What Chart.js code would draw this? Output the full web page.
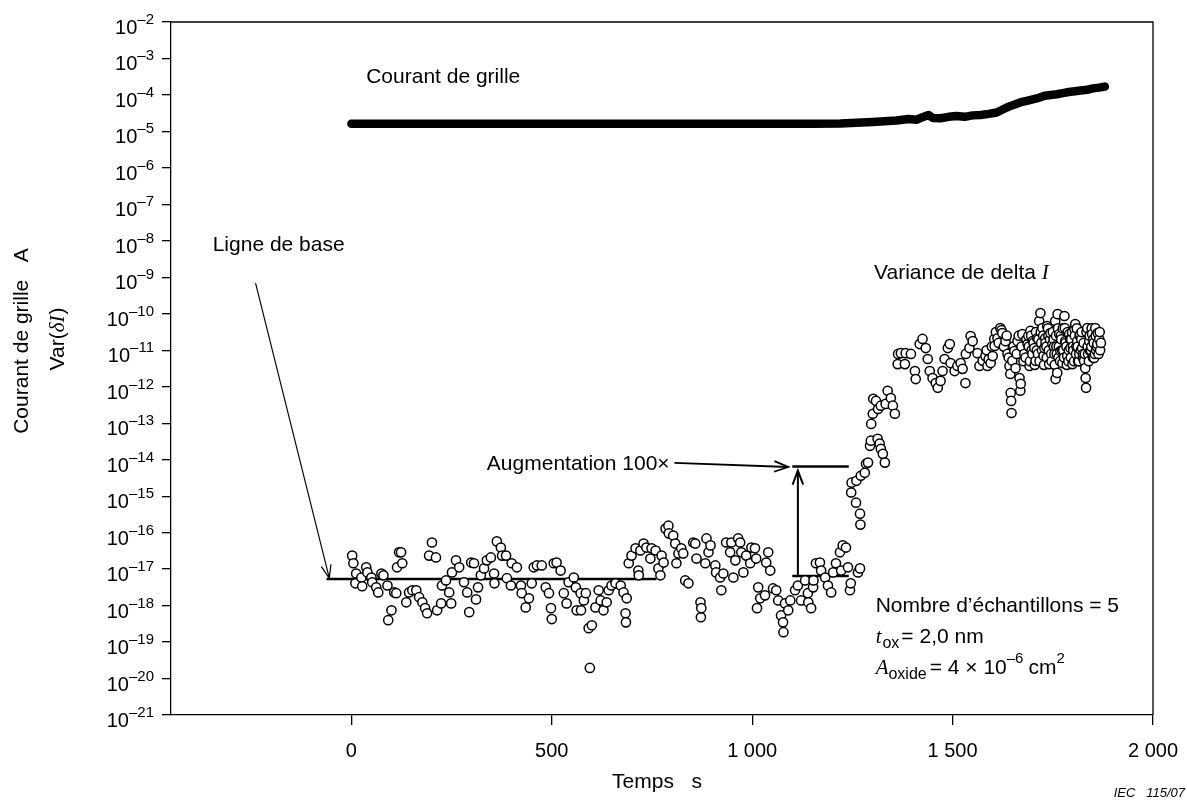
<!DOCTYPE html>
<html><head><meta charset="utf-8">
<script src="https://cdn.jsdelivr.net/npm/chart.js@4.4.1/dist/chart.umd.min.js"></script>
<style>html,body{margin:0;padding:0;background:#fff;overflow:hidden}canvas{display:block}</style>
</head><body>
<canvas id="c" width="1187" height="800" style="width:1187px;height:800px"></canvas>
<script>
// ---------------- DATA ----------------
const xTickValues = [0, 500, 1000, 1500, 2000];
const xTickLabels = ['0', '500', '1 000', '1 500', '2 000'];
const yTickExponents = [-2,-3,-4,-5,-6,-7,-8,-9,-10,-11,-12,-13,-14,-15,-16,-17,-18,-19,-20,-21];

// Gate current (A): time s, log10(I)
const gridTimes = [0,200,400,600,800,1000,1150,1220,1260,1300,1330,1360,1390,1410,1425,1440,1450,1470,1490,1510,1530,1550,1570,1590,1610,1625,1640,1655,1670,1685,1700,1715,1730,1745,1760,1775,1790,1805,1820,1835,1850,1865,1880];
const gridLog10 = [-4.79,-4.79,-4.79,-4.79,-4.79,-4.79,-4.79,-4.78,-4.76,-4.74,-4.72,-4.70,-4.66,-4.68,-4.61,-4.55,-4.63,-4.64,-4.60,-4.58,-4.60,-4.56,-4.55,-4.52,-4.48,-4.40,-4.32,-4.26,-4.20,-4.16,-4.12,-4.08,-4.02,-4.00,-3.98,-3.95,-3.92,-3.90,-3.88,-3.86,-3.82,-3.80,-3.77];

// Var(deltaI): time s, log10(Var)
const varianceTimes = [2,5,10,12,25,27,37,40,50,52,62,67,75,80,90,92,100,107,112,114,119,124,127,137,144,152,162,169,177,184,189,194,201,211,214,224,226,236,244,249,251,261,269,281,289,294,299,306,311,316,323,331,338,348,356,357,363,373,376,386,388,398,400,413,423,425,435,443,450,455,463,475,485,493,498,500,505,512,522,530,537,542,555,560,562,572,573,580,585,592,595,600,609,617,622,629,637,642,649,659,672,679,684,685,687,692,699,709,716,717,721,729,736,746,749,759,766,771,774,779,784,791,792,803,808,811,816,823,828,833,841,853,858,861,871,872,873,883,886,891,896,908,910,920,923,928,935,945,948,953,958,965,970,973,978,985,995,998,1007,1010,1012,1015,1020,1032,1035,1040,1045,1052,1060,1065,1072,1077,1078,1082,1090,1095,1107,1114,1122,1132,1139,1140,1147,1152,1153,1159,1169,1172,1182,1189,1197,1202,1209,1219,1222,1226,1234,1239,1244,1246,1247,1248,1259,1260,1264,1269,1269,1270,1271,1281,1284,1289,1294,1296,1297,1301,1302,1309,1313,1314,1318,1321,1321,1326,1331,1333,1338,1346,1351,1356,1363,1364,1371,1381,1383,1396,1406,1408,1418,1425,1433,1438,1443,1450,1458,1463,1470,1475,1480,1488,1493,1495,1505,1512,1520,1525,1532,1533,1542,1545,1550,1562,1567,1575,1582,1585,1587,1590,1595,1598,1600,1604,1605,1608,1612,1615,1619,1622,1624,1628,1632,1635,1637,1640,1642,1644,1645,1646,1647,1649,1652,1654,1657,1660,1662,1665,1667,1669,1670,1672,1674,1677,1679,1682,1684,1687,1689,1690,1692,1693,1694,1696,1697,1699,1700,1702,1704,1705,1707,1708,1710,1711,1713,1714,1716,1717,1719,1720,1721,1723,1724,1726,1727,1728,1729,1731,1732,1734,1735,1736,1738,1739,1740,1741,1743,1744,1746,1747,1749,1750,1752,1753,1754,1755,1756,1757,1758,1759,1760,1761,1762,1763,1764,1765,1766,1768,1769,1770,1771,1773,1774,1775,1776,1778,1779,1780,1781,1782,1784,1785,1786,1787,1789,1790,1791,1793,1794,1795,1796,1798,1799,1800,1801,1803,1804,1805,1806,1808,1809,1810,1811,1812,1813,1815,1816,1817,1818,1820,1821,1822,1823,1825,1826,1827,1828,1830,1831,1832,1833,1834,1836,1837,1838,1840,1841,1842,1843,1845,1846,1847,1848,1850,1851,1852,1853,1855,1856,1857,1858,1860,1861,1862,1864,1866,1867,1868,1870];
const varianceLog10 = [-16.63,-16.84,-17.39,-17.12,-17.23,-17.47,-16.95,-17.09,-17.23,-17.36,-17.50,-17.64,-17.12,-17.17,-17.45,-18.40,-18.13,-17.64,-17.66,-16.95,-16.54,-16.54,-16.84,-17.91,-17.64,-17.58,-17.58,-17.77,-17.91,-18.07,-18.21,-16.63,-16.27,-16.68,-18.13,-17.94,-17.45,-17.31,-17.64,-17.94,-17.09,-16.76,-16.95,-17.36,-17.64,-18.18,-16.82,-16.84,-17.83,-17.50,-17.17,-16.98,-16.76,-16.68,-17.12,-17.39,-16.24,-16.41,-16.63,-16.63,-17.25,-17.45,-16.84,-16.95,-17.45,-17.66,-18.05,-17.80,-17.39,-16.95,-16.90,-16.90,-17.50,-17.66,-18.07,-18.37,-16.84,-16.82,-17.04,-17.66,-17.94,-17.36,-17.23,-17.50,-18.13,-17.66,-18.13,-17.86,-17.66,-18.62,-19.71,-18.54,-18.05,-17.58,-17.86,-18.13,-17.91,-17.58,-17.45,-17.39,-17.45,-17.64,-18.21,-18.46,-17.80,-16.84,-16.63,-16.43,-17.04,-17.17,-16.49,-16.30,-16.41,-16.71,-16.43,-16.49,-16.98,-17.17,-16.63,-16.82,-15.89,-15.81,-16.02,-16.08,-16.30,-16.84,-16.57,-16.43,-16.57,-17.31,-17.39,-16.27,-16.30,-16.71,-17.91,-18.32,-18.07,-16.84,-16.16,-16.54,-16.35,-16.90,-17.09,-17.23,-17.58,-17.12,-16.27,-16.54,-16.27,-17.23,-16.76,-16.16,-16.27,-16.54,-17.09,-16.63,-16.84,-16.41,-16.43,-16.71,-18.07,-17.50,-17.80,-17.72,-16.82,-16.54,-17.04,-17.53,-17.58,-17.86,-18.27,-18.46,-18.73,-17.94,-18.13,-17.86,-17.58,-17.45,-17.86,-17.31,-17.66,-17.91,-18.07,-17.50,-17.31,-16.84,-16.82,-17.04,-17.23,-17.45,-17.64,-17.09,-16.84,-16.54,-17.04,-16.35,-16.41,-16.95,-17.58,-17.39,-14.90,-14.63,-15.18,-14.58,-17.09,-15.48,-16.98,-15.78,-14.44,-14.36,-14.11,-14.08,-13.62,-13.48,-13.02,-12.74,-12.33,-12.39,-13.43,-12.61,-13.56,-13.70,-12.52,-13.84,-14.08,-12.47,-12.11,-12.31,-12.52,-12.74,-11.38,-11.10,-11.08,-11.38,-11.08,-11.10,-11.57,-11.79,-10.83,-10.69,-10.94,-11.24,-11.57,-11.76,-11.90,-12.03,-11.84,-11.57,-11.24,-10.94,-10.83,-11.35,-11.57,-11.43,-11.35,-11.51,-11.90,-11.10,-10.94,-10.61,-10.75,-11.08,-11.43,-11.29,-11.16,-11.00,-11.43,-11.25,-11.35,-10.90,-11.16,-10.69,-10.88,-10.50,-10.67,-10.80,-10.39,-10.45,-10.53,-10.90,-10.75,-10.60,-11.10,-11.20,-11.43,-11.65,-12.17,-12.39,-12.72,-11.29,-10.90,-11.02,-11.49,-11.10,-10.75,-10.60,-11.76,-12.11,-11.92,-10.90,-10.56,-11.30,-11.10,-11.20,-10.70,-10.83,-10.60,-10.90,-11.43,-11.30,-10.47,-10.60,-11.00,-11.10,-10.75,-10.80,-10.94,-11.40,-11.29,-10.50,-11.00,-10.67,-11.10,-10.70,-10.20,-11.30,-9.98,-10.50,-10.80,-11.00,-10.39,-10.60,-11.15,-11.40,-10.94,-10.67,-10.80,-10.90,-11.20,-10.34,-10.40,-10.60,-11.00,-11.38,-10.70,-10.53,-11.10,-11.30,-10.83,-10.50,-10.70,-10.90,-11.10,-11.40,-10.20,-11.79,-10.60,-10.90,-11.10,-11.62,-10.01,-10.40,-11.20,-10.90,-10.56,-11.30,-11.02,-10.60,-10.70,-11.00,-11.35,-10.40,-11.00,-11.20,-10.06,-10.39,-10.75,-10.80,-10.90,-11.40,-11.16,-10.50,-11.30,-11.00,-10.56,-10.70,-10.94,-11.20,-10.70,-10.50,-11.38,-10.90,-11.00,-11.30,-10.42,-10.60,-10.28,-11.10,-10.90,-10.40,-10.75,-10.90,-11.30,-11.30,-11.10,-10.60,-10.56,-11.00,-10.70,-10.50,-10.94,-11.20,-11.10,-10.80,-11.29,-11.10,-11.49,-11.76,-12.03,-10.50,-10.39,-10.90,-11.10,-11.30,-10.75,-10.60,-11.02,-11.00,-10.90,-10.40,-10.56,-11.20,-10.70,-10.80,-11.21,-11.10,-10.39,-10.60,-11.00,-10.90,-10.83,-10.53,-11.10,-10.70,-10.50,-11.00,-10.80];

// Guide lines (baseline and 100x increase levels)
const baselineTimes = [-62, 761];
const baselineLog10 = [-17.27, -17.27];
const baseline2Times = [1100, 1241];
const baseline2Log10 = [-17.19, -17.19];
const raisedTimes = [1100, 1241];
const raisedLog10 = [-14.19, -14.19];

// ---------------- BUILD ----------------
const pts = (ts, ls) => ts.map((t, i) => ({x: t, y: Math.pow(10, ls[i])}));
const SANS = '"Liberation Sans", Arial, sans-serif';
const SERIF = '"Liberation Serif", "Times New Roman", serif';
const FS = 21;

function arrow(ctx, x1, y1, x2, y2, lw, head) {
  ctx.save();
  ctx.strokeStyle = '#000'; ctx.lineWidth = lw; ctx.lineCap = 'butt';
  ctx.beginPath(); ctx.moveTo(x1, y1); ctx.lineTo(x2, y2); ctx.stroke();
  const a = Math.atan2(y2 - y1, x2 - x1), s = 0.36;
  ctx.beginPath();
  ctx.moveTo(x2 - head * Math.cos(a - s), y2 - head * Math.sin(a - s));
  ctx.lineTo(x2, y2);
  ctx.lineTo(x2 - head * Math.cos(a + s), y2 - head * Math.sin(a + s));
  ctx.stroke();
  ctx.restore();
}
function rich(ctx, x, y, parts) {
  let cx = x;
  for (const p of parts) {
    ctx.font = p.f;
    ctx.fillText(p.t, cx, y + (p.dy || 0));
    cx += ctx.measureText(p.t).width + (p.gap || 0);
  }
  return cx - x;
}
function richWidth(ctx, parts) {
  let w = 0;
  for (const p of parts) { ctx.font = p.f; w += ctx.measureText(p.t).width + (p.gap || 0); }
  return w;
}

const decor = {
  id: 'decor',
  beforeDraw(chart) {
    const c = chart.ctx; c.save(); c.fillStyle = '#fff'; c.fillRect(0, 0, chart.width, chart.height); c.restore();
  },
  afterDraw(chart) {
    const ctx = chart.ctx, xs = chart.scales.x, ys = chart.scales.y, a = chart.chartArea;
    const X = v => xs.getPixelForValue(v), Y = l => ys.getPixelForValue(Math.pow(10, l));
    ctx.save();
    ctx.fillStyle = '#000'; ctx.textBaseline = 'alphabetic'; ctx.textAlign = 'left';
    // frame (top + right)
    ctx.strokeStyle = '#000'; ctx.lineWidth = 1.3;
    ctx.beginPath(); ctx.moveTo(a.left, a.top); ctx.lineTo(a.right, a.top); ctx.lineTo(a.right, a.bottom); ctx.stroke();
    // y tick labels 10^k
    for (const k of yTickExponents) {
      const y = Y(k);
      ctx.font = '15px ' + SANS;
      const sup = '\u2013' + Math.abs(k);
      const sw = ctx.measureText(sup).width;
      ctx.fillText(sup, 154 - sw, y + 2);
      ctx.font = '20px ' + SANS;
      const bw = ctx.measureText('10').width;
      ctx.fillText('10', 154 - sw - bw, y + 12);
    }
    // x tick labels
    ctx.font = '20px ' + SANS; ctx.textAlign = 'center';
    xTickValues.forEach((v, i) => ctx.fillText(xTickLabels[i], X(v), 757));
    // x title (centred on the plot area)
    ctx.font = FS + 'px ' + SANS;
    ctx.fillText('Temps   s', (a.left + a.right) / 2 - 5, 788);
    // IEC reference
    ctx.font = 'italic 13px ' + SANS; ctx.textAlign = 'right';
    ctx.fillText('IEC   115/07', 1185, 797);
    // y titles (rotated)
    ctx.textAlign = 'left';
    ctx.save(); ctx.translate(28, 341); ctx.rotate(-Math.PI / 2);
    const t1 = [{t: 'Courant de grille   A', f: FS + 'px ' + SANS}];
    rich(ctx, -richWidth(ctx, t1) / 2, 0, t1);
    ctx.restore();
    ctx.save(); ctx.translate(64, 339); ctx.rotate(-Math.PI / 2);
    const t2 = [{t: 'Var(', f: FS + 'px ' + SANS}, {t: '\u03b4I', f: 'italic ' + FS + 'px ' + SERIF, gap: 1}, {t: ')', f: FS + 'px ' + SANS}];
    rich(ctx, -richWidth(ctx, t2) / 2, 0, t2);
    ctx.restore();
    // annotations
    const F = FS + 'px ' + SANS, FI = 'italic ' + FS + 'px ' + SERIF;
    ctx.font = F;
    ctx.fillText('Courant de grille', X(37), Y(-3.45) + 8);
    rich(ctx, X(1304), Y(-8.83) + 8, [{t: 'Variance de delta ', f: F}, {t: 'I', f: FI}]);
    ctx.font = F;
    ctx.fillText('Ligne de base', X(-346), Y(-8.06) + 8);
    ctx.fillText('Augmentation 100\u00d7', X(338), Y(-14.06) + 8);
    ctx.fillText('Nombre d\u2019\u00e9chantillons = 5', X(1308), Y(-17.97) + 8);
    rich(ctx, X(1308), Y(-18.82) + 8, [{t: 't', f: FI, gap: 1}, {t: 'ox', f: '16px ' + SANS, dy: 5, gap: 2}, {t: '= 2,0 nm', f: F}]);
    rich(ctx, X(1308), Y(-19.67) + 8, [{t: 'A', f: FI}, {t: 'oxide', f: '16px ' + SANS, dy: 5, gap: 3}, {t: '= 4 \u00d7 10', f: F}, {t: '\u20136', f: '15px ' + SANS, dy: -11, gap: 5}, {t: 'cm', f: F}, {t: '2', f: '15px ' + SANS, dy: -11}]);
    // arrows
    arrow(ctx, X(-239), Y(-9.16), X(-55), Y(-17.25), 1.2, 14);
    arrow(ctx, X(806), Y(-14.09), X(1090), Y(-14.20), 1.8, 15);
    arrow(ctx, X(1114), Y(-17.16), X(1114), Y(-14.30), 2, 15);
    ctx.restore();
  }
};

const lineDs = (d, w, cap) => ({data: d, type: 'scatter', showLine: true, borderColor: '#000', backgroundColor: '#000', borderWidth: w, pointRadius: 0, pointHoverRadius: 0, borderCapStyle: cap || 'butt', borderJoinStyle: 'round', tension: 0});

new Chart(document.getElementById('c'), {
  type: 'scatter',
  data: {
    datasets: [
      lineDs(pts(gridTimes, gridLog10), 8.5, 'round'),
      {data: pts(varianceTimes, varianceLog10), pointRadius: 4.6, pointBorderWidth: 1.5, pointBackgroundColor: '#fff', pointBorderColor: '#000', pointHoverRadius: 4.6, showLine: false},
      lineDs(pts(baselineTimes, baselineLog10), 2.5),
      lineDs(pts(baseline2Times, baseline2Log10), 2.5),
      lineDs(pts(raisedTimes, raisedLog10), 2.5)
    ]
  },
  options: {
    responsive: false, animation: false, devicePixelRatio: 1,
    events: [],
    layout: {padding: {left: 162, right: 34, top: 22, bottom: 75}},
    plugins: {legend: {display: false}, tooltip: {enabled: false}},
    scales: {
      x: {
        type: 'linear', min: -450, max: 2000,
        afterBuildTicks: s => { s.ticks = xTickValues.map(v => ({value: v})); },
        ticks: {display: false},
        grid: {drawOnChartArea: false, drawTicks: true, tickLength: 10, color: '#000', lineWidth: 1.3},
        border: {display: true, color: '#000', width: 1.3}
      },
      y: {
        type: 'logarithmic', min: 1e-21, max: 1e-2,
        afterBuildTicks: s => { s.ticks = yTickExponents.map(k => ({value: Math.pow(10, k)})); },
        ticks: {display: false},
        grid: {drawOnChartArea: false, drawTicks: true, tickLength: 9, color: '#000', lineWidth: 1.3},
        border: {display: true, color: '#000', width: 1.3}
      }
    }
  },
  plugins: [decor]
});
</script>
</body></html>
